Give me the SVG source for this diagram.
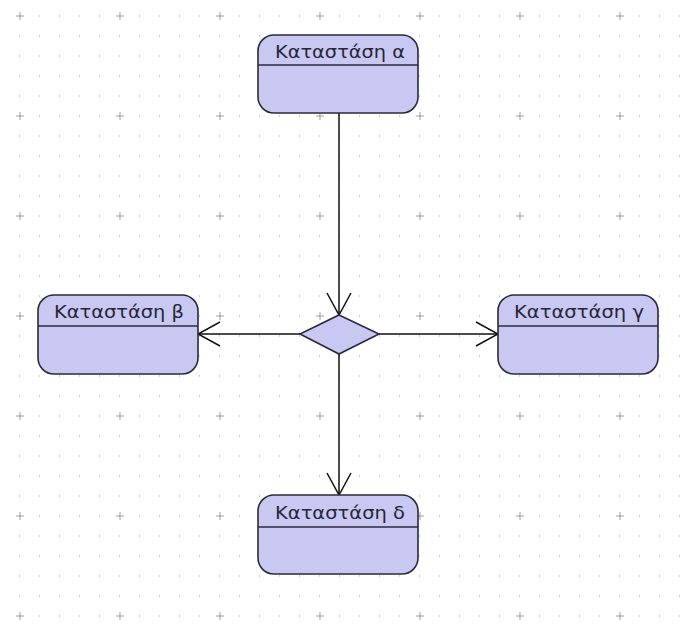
<svg xmlns="http://www.w3.org/2000/svg" width="680" height="625" viewBox="0 0 680 625">
  <defs>
    <pattern id="dots" x="0" y="-5" width="20" height="20" patternUnits="userSpaceOnUse">
      <rect x="19" y="0" width="2" height="2" fill="#cdcdcd"/>
    </pattern>
    <pattern id="plus" x="-30" y="-34" width="100" height="100" patternUnits="userSpaceOnUse">
      <path d="M46 50 H54 M50 46 V54" stroke="#a0a0a0" stroke-width="1"/>
    </pattern>
    <marker id="open" viewBox="0 0 24 26" refX="23" refY="13" markerWidth="24" markerHeight="26" markerUnits="userSpaceOnUse" orient="auto">
      <path d="M1 1 L23 13 L1 25" fill="none" stroke="#111" stroke-width="1.5"/>
    </marker>
    <style>
      .state rect { fill: #c8c8f2; stroke: #2a2a3a; stroke-width: 1.6; }
      .state line { stroke: #2a2a3a; stroke-width: 1.4; }
      .state text { font-family: "DejaVu Sans", "Liberation Sans", sans-serif; font-size: 18px; fill: #262636; text-anchor: middle; }
      .edge { stroke: #111; stroke-width: 1.5; fill: none; marker-end: url(#open); }
    </style>
  </defs>

  <!-- canvas grid -->
  <rect width="680" height="625" fill="#ffffff"/>
  <rect width="680" height="625" fill="url(#dots)"/>
  <rect width="680" height="625" fill="url(#plus)"/>

  <!-- transitions -->
  <g id="connectors">
    <line class="edge" x1="339" y1="113" x2="339" y2="315"/>
    <line class="edge" x1="300" y1="334" x2="198" y2="334"/>
    <line class="edge" x1="379" y1="334" x2="498" y2="334"/>
    <line class="edge" x1="339" y1="354" x2="339" y2="495"/>
  </g>

  <g id="state-a" class="state">
    <rect x="258" y="35" width="160" height="78" rx="16"/>
    <line x1="258" y1="65" x2="418" y2="65"/>
    <text x="340" y="58" textLength="130" lengthAdjust="spacingAndGlyphs">Καταστάση α</text>
  </g>

  <g id="state-b" class="state">
    <rect x="38" y="295" width="160" height="79" rx="16"/>
    <line x1="38" y1="326" x2="198" y2="326"/>
    <text x="119" y="318" textLength="130" lengthAdjust="spacingAndGlyphs">Καταστάση β</text>
  </g>

  <g id="state-g" class="state">
    <rect x="498" y="295" width="160" height="79" rx="16"/>
    <line x1="498" y1="326" x2="658" y2="326"/>
    <text x="579" y="318" textLength="130" lengthAdjust="spacingAndGlyphs">Καταστάση γ</text>
  </g>

  <g id="state-d" class="state">
    <rect x="258" y="495" width="160" height="79" rx="16"/>
    <line x1="258" y1="527" x2="418" y2="527"/>
    <text x="340" y="519" textLength="130" lengthAdjust="spacingAndGlyphs">Καταστάση δ</text>
  </g>

  <g id="decision">
    <polygon points="339,315 379,334 339,354 300,334" fill="#c8c8f2" stroke="#2a2a3a" stroke-width="1.6"/>
  </g>
</svg>
